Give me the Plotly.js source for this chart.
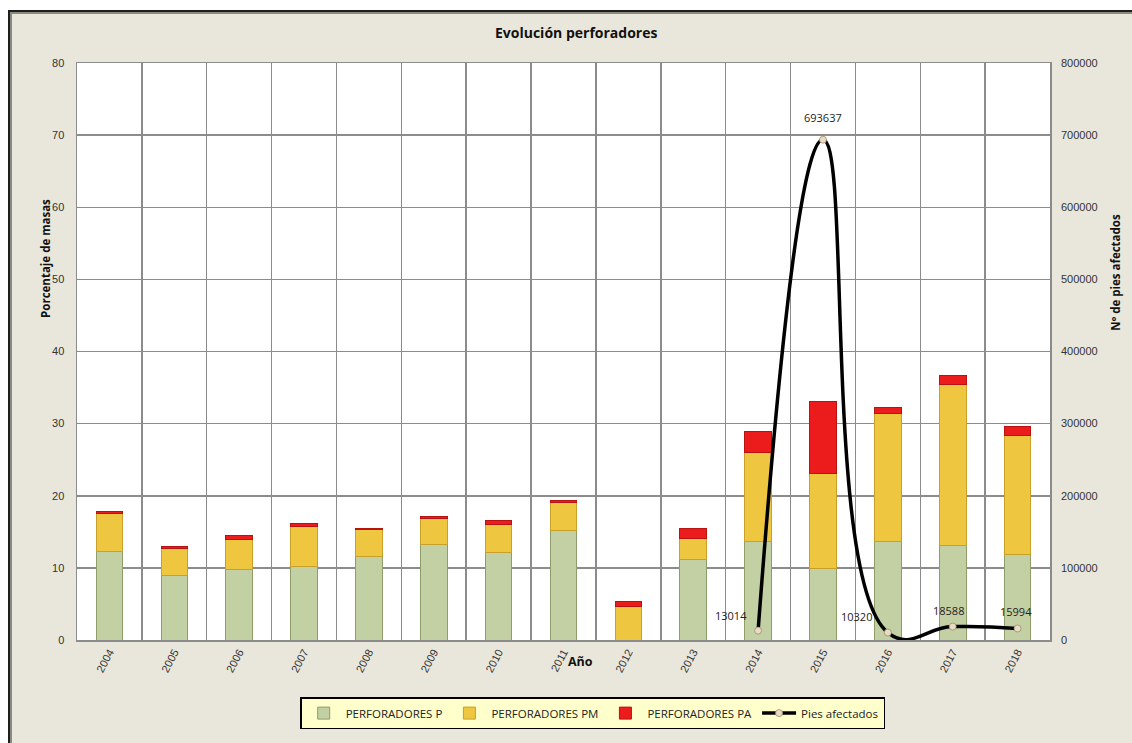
<!DOCTYPE html>
<html>
<head>
<meta charset="utf-8">
<script src="https://cdn.plot.ly/plotly-3.0.1.min.js"></script>
<style>
  html, body { margin: 0; padding: 0; background: #ffffff; overflow: hidden; }
  #frame { position: absolute; left: 8px; top: 10px; width: 1140px; height: 760px;
           background: #E9E7DB; border-left: 2px solid #1e1e1e; border-top: 2px solid #1e1e1e;
           box-shadow: inset 2px 2px 0 #8a8a80; }
  #chart { position: absolute; left: 0; top: 0; width: 1132px; height: 743px; }
</style>
</head>
<body>
<div id="frame"></div>
<div id="chart"></div>
<script>
const years = ["2004","2005","2006","2007","2008","2009","2010","2011","2012","2013","2014","2015","2016","2017","2018"];
const perfP  = [12.3, 9.0, 9.8, 10.2, 11.6, 13.2, 12.1, 15.2, 0.0, 11.1, 13.7, 9.9, 13.7, 13.1, 11.8];
const perfPM = [5.3, 3.7, 4.1, 5.6, 3.7, 3.6, 3.9, 3.8, 4.6, 3.0, 12.3, 13.2, 17.7, 22.3, 16.6];
const perfPA = [0.2, 0.2, 0.6, 0.4, 0.2, 0.3, 0.5, 0.3, 0.8, 1.3, 2.9, 10.0, 0.8, 1.3, 1.2];
const piesAfectados = [null, null, null, null, null, null, null, null, null, null, 13014, 693637, 10320, 18588, 15994];
// label offsets (pixels) relative to each point of the line
const labelDx = [0, 0, 0, 0, 0, 0, 0, 0, 0, 0, -27, 0, -31, -4, -2];
const labelDy = [0, 0, 0, 0, 0, 0, 0, 0, 0, 0, 15, 22, 16, 16, 17];

const labelFont = "Open Sans, Noto Sans, sans-serif";
const tickFont = "Liberation Sans, Arial, sans-serif";

const traces = [
  { type: "bar", name: "PERFORADORES P", x: years, y: perfP,
    marker: { color: "#C2D0A4", line: { color: "#8E9E6A", width: 1 } } },
  { type: "bar", name: "PERFORADORES PM", x: years, y: perfPM,
    marker: { color: "#EEC640", line: { color: "#C9A02A", width: 1 } } },
  { type: "bar", name: "PERFORADORES PA", x: years, y: perfPA,
    marker: { color: "#EC1C1C", line: { color: "#B81212", width: 1 } } },
  { type: "scatter", mode: "lines+markers", name: "Pies afectados", x: years, y: piesAfectados,
    yaxis: "y2", connectgaps: false,
    line: { color: "#000000", width: 3.5, shape: "spline", smoothing: 1.3 },
    marker: { color: "#EADCC4", size: 7, line: { color: "#9a8a70", width: 0.8 } },
    cliponaxis: true }
];

const annotations = [
  { text: "<b>Año</b>", xref: "paper", yref: "paper", x: 0.517, y: -0.038, showarrow: false,
    xanchor: "center", yanchor: "middle", font: { family: labelFont, size: 12.5, color: "#111" } },
  { text: "<b>Porcentaje de masas</b>", xref: "paper", yref: "paper", x: -0.033, y: 0.662, textangle: -90,
    showarrow: false, xanchor: "center", yanchor: "middle", font: { family: labelFont, size: 11.5, color: "#111" } },
  { text: "<b>Nº de pies afectados</b>", xref: "paper", yref: "paper", x: 1.067, y: 0.637, textangle: -90,
    showarrow: false, xanchor: "center", yanchor: "middle", font: { family: labelFont, size: 11.5, color: "#111" } }
];
piesAfectados.forEach((v, i) => {
  if (v === null) return;
  annotations.push({ text: String(v), x: i, y: v, xref: "x", yref: "y2", showarrow: false,
    xshift: labelDx[i], yshift: labelDy[i], xanchor: "center", yanchor: "middle",
    font: { family: labelFont, size: 11, color: "#222" } });
});

const layout = {
  width: 1132, height: 743,
  paper_bgcolor: "rgba(0,0,0,0)",
  plot_bgcolor: "#ffffff",
  margin: { l: 77, r: 82, t: 63, b: 103 },
  barmode: "stack",
  bargap: 0.59,
  showlegend: true,
  title: { text: "<b>Evolución perforadores</b>", x: 0.509, xref: "container", y: 0.955, yref: "container",
           xanchor: "center", yanchor: "middle",
           font: { family: labelFont, size: 14, color: "#111" } },
  xaxis: {
    type: "category", range: [-0.5, 14.5], autorange: false, tickson: "boundaries",
    showgrid: true, gridcolor: "#8c8c8c", gridwidth: 1.5,
    showline: true, linecolor: "#8c8c8c", linewidth: 1.5, mirror: true,
    ticks: "", tickangle: -62, tickfont: { family: tickFont, size: 11, color: "#333" }
  },
  yaxis: {
    range: [0, 80], dtick: 10, showgrid: true, gridcolor: "#8c8c8c", gridwidth: 1.5,
    showline: true, linecolor: "#8c8c8c", linewidth: 1.5, mirror: true, zeroline: false,
    ticks: "", ticklabelstandoff: 9, tickfont: { family: tickFont, size: 11, color: "#333" }
  },
  yaxis2: {
    overlaying: "y", side: "right", range: [0, 800000], dtick: 100000, tickformat: "d",
    showgrid: false, zeroline: false, showline: false, ticks: "", ticklabelstandoff: 10,
    tickfont: { family: tickFont, size: 11, color: "#333" }
  },
  legend: {
    orientation: "h", x: 0.53, xanchor: "center", y: -0.099, yanchor: "top",
    bgcolor: "#FFFFCC", bordercolor: "#000000", borderwidth: 1.5,
    font: { family: labelFont, size: 11.5, color: "#222" },
    traceorder: "normal", itemwidth: 34
  },
  annotations: annotations
};

Plotly.newPlot("chart", traces, layout, { displayModeBar: false, staticPlot: true });
</script>
</body>
</html>
